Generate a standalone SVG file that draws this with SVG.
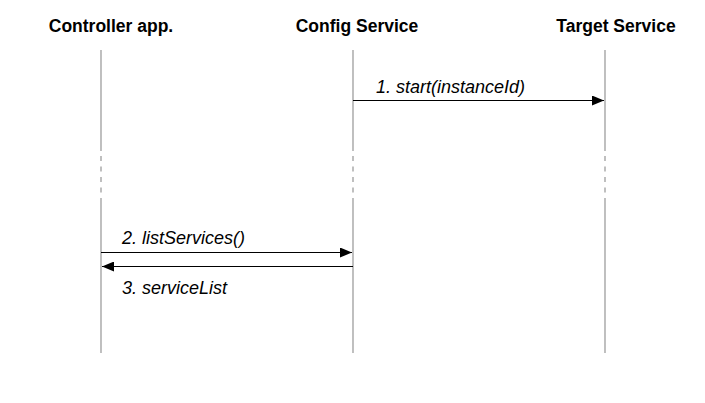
<svg xmlns="http://www.w3.org/2000/svg" width="705" height="403" viewBox="0 0 705 403">
<style>
.title{font-family:"Liberation Sans",Arial,sans-serif;font-weight:bold;font-size:17.5px;fill:#000;text-anchor:middle}
.lbl{font-family:"Liberation Sans",Arial,sans-serif;font-style:italic;font-size:18px;fill:#000}
.life{stroke:#b0b0b0;stroke-width:1.6;fill:none}
.dash{stroke:#b0b0b0;stroke-width:1.6;fill:none;stroke-dasharray:5 5.5}
.msg{stroke:#000;stroke-width:1;fill:none}
</style>
<defs>
<marker id="ah" viewBox="0 0 12 10" refX="12" refY="5" markerWidth="12" markerHeight="10" markerUnits="userSpaceOnUse" orient="auto">
<path d="M0,0 L12,5 L0,10 Z" fill="#000"/>
</marker>
</defs>
<rect width="705" height="403" fill="#fff"/>
<g id="controller">
<text class="title" x="111" y="32">Controller app.</text>
<line class="life" x1="101" y1="50" x2="101" y2="151"/>
<line class="dash" x1="101" y1="156" x2="101" y2="195"/>
<line class="life" x1="101" y1="198" x2="101" y2="353"/>
</g>
<g id="config">
<text class="title" x="357" y="32">Config Service</text>
<line class="life" x1="353" y1="50" x2="353" y2="151"/>
<line class="dash" x1="353" y1="156" x2="353" y2="195"/>
<line class="life" x1="353" y1="198" x2="353" y2="353"/>
</g>
<g id="target">
<text class="title" x="616" y="32">Target Service</text>
<line class="life" x1="605" y1="50" x2="605" y2="151"/>
<line class="dash" x1="605" y1="156" x2="605" y2="195"/>
<line class="life" x1="605" y1="198" x2="605" y2="353"/>
</g>
<g id="connectors">
<line class="msg" x1="353" y1="100.5" x2="604" y2="100.5" marker-end="url(#ah)"/>
<text class="lbl" x="376" y="93">1. start(instanceId)</text>
<line class="msg" x1="101" y1="252.5" x2="352" y2="252.5" marker-end="url(#ah)"/>
<text class="lbl" x="122" y="244">2. listServices()</text>
<line class="msg" x1="353" y1="266.5" x2="102" y2="266.5" marker-end="url(#ah)"/>
<text class="lbl" x="122" y="294">3. serviceList</text>
</g>
</svg>
